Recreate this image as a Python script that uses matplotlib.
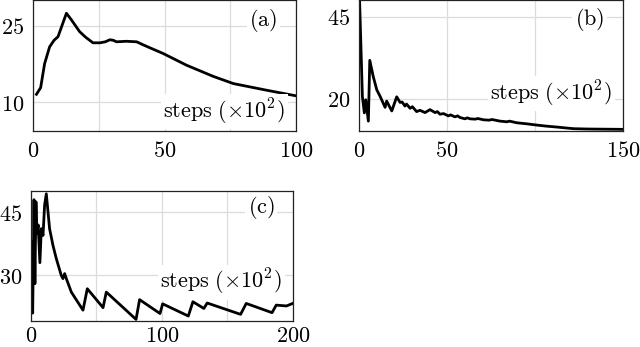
import matplotlib
matplotlib.use("Agg")
import matplotlib.pyplot as plt

plt.rcParams['mathtext.fontset'] = 'cm'
plt.rcParams['font.family'] = ['DejaVu Serif']

# ---------------- data ----------------
a_steps = [1.3, 2.9, 4.4, 6.3, 8.0, 9.5, 12.7, 14.6, 17.7, 20.0, 22.8, 25.4,
           27.5, 29.2, 30.5, 31.7, 35.5, 39.4, 41.9, 45.0, 49.5, 58.4, 68.6,
           76.2, 88.8, 100.0]
a_vals = [11.6, 12.9, 17.6, 20.9, 22.2, 22.9, 27.5, 26.2, 23.9, 22.8, 21.7,
          21.7, 21.9, 22.3, 22.2, 21.9, 22.0, 21.9, 21.3, 20.6, 19.6, 17.3,
          15.1, 13.7, 12.4, 11.3]

b_steps = [0.2, 1.9, 3.0, 3.8, 5.3, 6.1, 8.1, 10.1, 12.0, 14.8, 15.7, 18.6,
           21.4, 23.3, 24.5, 26.1, 27.0, 29.0, 30.3, 32.7, 34.6, 37.5, 40.3,
           43.2, 44.5, 46.0, 48.0, 50.7, 52.0, 54.5, 56.0, 57.4, 60.2, 61.5,
           63.1, 66.0, 67.5, 70.7, 74.0, 75.5, 80.1, 84.0, 85.5, 89.6, 95.0,
           101.0, 106.0, 112.4, 118.0, 122.0, 130.0, 140.0, 150.0]
b_vals = [52.0, 20.7, 15.7, 19.7, 13.2, 31.7, 26.7, 22.7, 20.7, 17.4, 19.3,
          16.3, 20.6, 18.9, 19.0, 17.8, 18.4, 17.1, 17.6, 16.1, 16.5, 15.8,
          16.7, 15.8, 16.1, 15.3, 15.5, 14.8, 15.1, 14.5, 14.8, 14.3, 13.9,
          14.2, 13.9, 13.8, 14.0, 13.6, 13.5, 13.7, 13.2, 13.0, 13.2, 12.7,
          12.4, 12.0, 11.7, 11.4, 11.1, 10.9, 10.8, 10.75, 10.7]

c_steps = [0.3, 1.3, 2.3, 3.0, 3.8, 4.5, 5.5, 6.8, 7.9, 9.2, 10.4, 11.7,
           13.0, 14.2, 16.8, 19.3, 23.1, 24.4, 25.7, 27.0, 30.8, 39.7, 43.0,
           55.0, 57.5, 80.2, 82.9, 98.5, 100.5, 120.1, 123.6, 132.0, 134.5,
           160.0, 164.3, 184.0, 187.2, 195.0, 199.8]
c_vals = [38.0, 21.0, 48.0, 28.0, 47.5, 40.0, 42.0, 33.0, 41.1, 39.5, 46.7,
          49.4, 45.1, 41.1, 37.1, 34.0, 30.0, 29.2, 30.4, 29.2, 26.0, 21.7,
          26.8, 22.3, 26.0, 19.5, 24.2, 20.9, 23.2, 20.3, 23.7, 22.1, 23.4,
          20.7, 23.3, 21.1, 22.9, 22.7, 23.3]

panels = [
    dict(x=a_steps, y=a_vals, xlim=(0, 100), ylim=(4.4, 30.1),
         xticks=[0, 25, 50, 75, 100], xlabels=['0', '', '50', '', '100'],
         yticks=[10, 25], tag='(a)', tagy=0.80, laby=0.097, xpad=6.5,
         rect=[0.0516, 0.6225, 0.4109, 0.3775]),
    dict(x=b_steps, y=b_vals, xlim=(0, 150), ylim=(10.2, 50.06),
         xticks=[0, 50, 100, 150], xlabels=['0', '50', '', '150'],
         yticks=[20, 45], tag='(b)', tagy=0.81, laby=0.235, xpad=6.5,
         rect=[0.561, 0.6225, 0.4125, 0.3775]),
    dict(x=c_steps, y=c_vals, xlim=(0, 200), ylim=(19.0, 50.07),
         xticks=[0, 50, 100, 150, 200], xlabels=['0', '', '100', '', '200'],
         yticks=[30, 45], tag='(c)', tagy=0.83, laby=0.25, xpad=2.5,
         rect=[0.0484, 0.0735, 0.4094, 0.3761]),
]

fig = plt.figure(figsize=(6.4, 3.47), dpi=100)
for p in panels:
    ax = fig.add_axes(p['rect'])
    ax.plot(p['x'], p['y'], color='black', lw=2.0, solid_joinstyle='round',
            zorder=3)
    ax.set_xlim(*p['xlim'])
    ax.set_ylim(*p['ylim'])
    ax.set_xticks(p['xticks'])
    ax.set_xticklabels(['$%s$' % s if s else '' for s in p['xlabels']])
    ax.set_yticks(p['yticks'])
    ax.set_yticklabels(['$%d$' % v for v in p['yticks']])
    ax.grid(True, color='#dcdcdc', lw=0.9, zorder=0)
    ax.set_axisbelow(True)
    ax.tick_params(length=0, labelsize=16)
    ax.tick_params(axis='y', pad=6.5)
    ax.tick_params(axis='x', pad=p['xpad'])
    for s in ax.spines.values():
        s.set_color('#222222')
        s.set_linewidth(0.9)
        s.set_zorder(5)
    ax.text(0.93, p['tagy'], r'$\mathrm{%s}$' % p['tag'],
            transform=ax.transAxes, ha='right', va='baseline', fontsize=16,
            zorder=4, bbox=dict(facecolor='white', edgecolor='none', pad=2))
    ax.text(0.958, p['laby'], r'$\mathrm{steps}\ (\times 10^2)$',
            transform=ax.transAxes, ha='right', va='baseline', fontsize=16,
            zorder=4, bbox=dict(facecolor='white', edgecolor='none', pad=2))

fig.savefig('out.png', dpi=100)
